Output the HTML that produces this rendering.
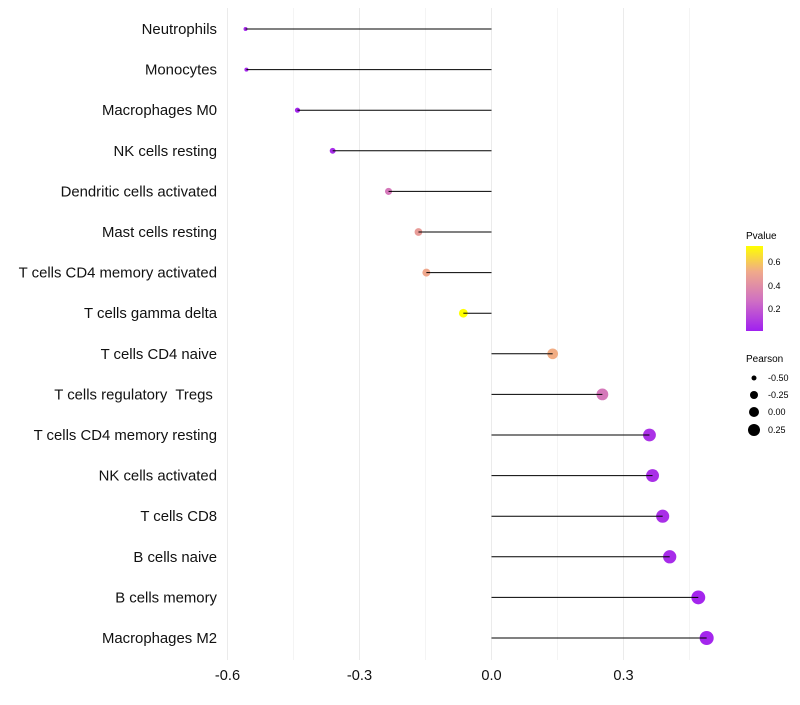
<!DOCTYPE html>
<html><head><meta charset="utf-8"><style>
body{margin:0;background:#fff;font-family:"Liberation Sans",sans-serif}
</style></head><body>
<svg id="chart" width="800" height="700" xmlns="http://www.w3.org/2000/svg">
<defs><linearGradient id="pg" x1="0" y1="1" x2="0" y2="0">
<stop offset="0" stop-color="#A020F0"/><stop offset="0.35" stop-color="#CF6EC4"/><stop offset="0.7" stop-color="#F0AA8A"/><stop offset="1" stop-color="#FFFF00"/></linearGradient></defs>
<g id="grid"></g><g id="marks"></g><g id="labels"></g>
<g>
<text x="746" y="239" font-size="10">Pvalue</text>
<rect x="746" y="246" width="17" height="85" fill="url(#pg)"/>
<text x="768" y="265" font-size="9">0.6</text><text x="768" y="289" font-size="9">0.4</text><text x="768" y="312" font-size="9">0.2</text>
</g>
<g>
<text x="746" y="362" font-size="10">Pearson</text>
<circle cx="754" cy="378" r="2.5"/><text x="768" y="381" font-size="9">-0.50</text>
<circle cx="754" cy="395" r="4"/><text x="768" y="398" font-size="9">-0.25</text>
<circle cx="754" cy="412" r="5"/><text x="768" y="415" font-size="9">0.00</text>
<circle cx="754" cy="430" r="6"/><text x="768" y="433" font-size="9">0.25</text>
</g>
</svg>
<script>
const categories=["Neutrophils","Monocytes","Macrophages M0","NK cells resting","Dendritic cells activated","Mast cells resting","T cells CD4 memory activated","T cells gamma delta","T cells CD4 naive","T cells regulatory\u00a0 Tregs\u00a0","T cells CD4 memory resting","NK cells activated","T cells CD8","B cells naive","B cells memory","Macrophages M2"];
const pearson=[-0.559,-0.557,-0.441,-0.361,-0.234,-0.166,-0.148,-0.064,0.139,0.252,0.359,0.366,0.389,0.405,0.470,0.489];
const pvalues=[0.03,0.03,0.02,0.04,0.30,0.45,0.50,0.73,0.52,0.30,0.06,0.05,0.05,0.04,0.02,0.02];
const xTicks=[-0.6,-0.3,0.0,0.3];
const xTickLabels=["-0.6","-0.3","0.0","0.3"];
const NS="http://www.w3.org/2000/svg";
const x=v=>491.5+v*440;
const y=i=>29+i*40.6;
function col(p){const t=Math.max(0,Math.min(1,p/0.73));
const st=[[0,[160,32,240]],[0.35,[207,110,196]],[0.7,[240,170,138]],[1,[255,255,0]]];
for(let k=1;k<st.length;k++){if(t<=st[k][0]){const a=st[k-1],b=st[k],f=(t-a[0])/(b[0]-a[0]);
return "rgb("+a[1].map((c,j)=>Math.round(c+(b[1][j]-c)*f)).join(",")+")";}}return "rgb(255,255,0)";}
function mk(tag,at,par){const e=document.createElementNS(NS,tag);for(const k in at)e.setAttribute(k,at[k]);document.getElementById(par).appendChild(e);return e;}
for(let v=-0.6;v<=0.46;v+=0.15){const g=mk("line",{x1:x(v),x2:x(v),y1:8,y2:660,stroke:Math.abs(Math.round(v/0.15))%2==0?"#ebebeb":"#f4f4f4","stroke-width":1},"grid");

}
xTicks.forEach((v,i)=>{const t=mk("text",{x:x(v),y:680,"font-size":14.6,"text-anchor":"middle",fill:"#111"},"labels");t.textContent=xTickLabels[i];

});
categories.forEach((c,i)=>{const t=mk("text",{x:217,y:y(i)+5,"font-size":14.9,"text-anchor":"end",fill:"#111"},"labels");t.textContent=c;


const l=mk("line",{x1:x(0),x2:x(pearson[i]),y1:y(i),y2:y(i),stroke:"#000","stroke-width":1},"marks");


const r=2+(pearson[i]+0.56)*4.8;
const d=mk("circle",{cx:x(pearson[i]),cy:y(i),r:r,fill:col(pvalues[i])},"marks");


const l2=mk("line",{x1:x(pearson[i]),x2:x(pearson[i])+(pearson[i]<0?r:-r),y1:y(i),y2:y(i),stroke:"#000","stroke-width":1},"marks");

});
</script>
</body></html>
